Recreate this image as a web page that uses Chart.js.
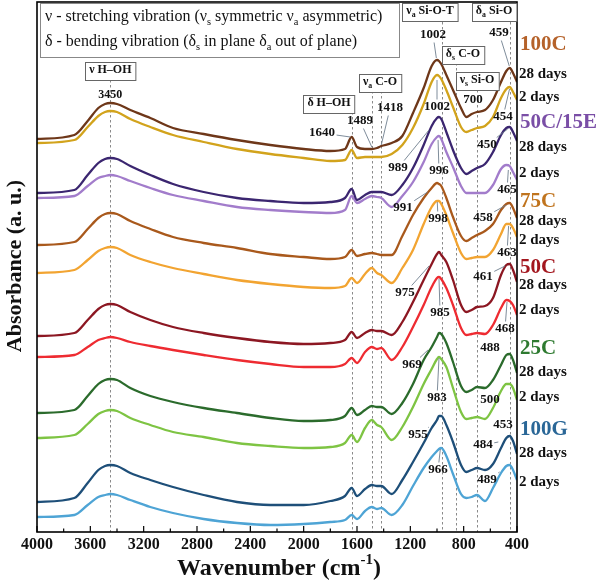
<!DOCTYPE html>
<html><head><meta charset="utf-8">
<script src="https://cdn.jsdelivr.net/npm/chart.js@4.4.1/dist/chart.umd.min.js"></script>
<style>html,body{margin:0;padding:0;background:#fff}canvas{display:block}</style>
</head><body>
<canvas id="c" width="600" height="585"></canvas>
<script>
// ---------- DATA ----------
const wavenumbers = [4000,3720,3620,3540,3490,3450,3400,3300,3150,2980,2750,2500,2250,2000,1800,1690,1640,1600,1540,1489,1450,1418,1340,1260,1180,1100,1040,1000,985,968,930,880,820,780,740,700,640,580,520,480,455,430,400];
const xTickValues = [4000,3600,3200,2800,2400,2000,1600,1200,800,400];

const c100C_28d = [393,397,411,424,428,429,428,422,414,404,398,392,387,383,381,383,395,385,383,383,384,386,389,396,419,444,466,472,471,468,457,442,424,415,418,420,422,432,450,461,464,459,450];
const c100C_2d  = [389,392,405,416,420,421,420,413,405,397,390,383,378,374,371,372,382,374,375,375,375,375,378,387,404,428,450,457,456,453,442,425,405,400,402,404,406,415,434,443,445,440,432];
const c50C15E_28d = [339,342,357,369,373,374,373,366,357,348,340,334,331,329,330,334,343,332,337,340,340,340,337,347,364,387,406,414,415,413,400,382,364,358,361,364,368,380,397,404,405,400,391];
const c50C15E_2d  = [334,336,346,354,356,357,356,351,344,337,331,325,322,320,319,322,336,329,333,336,335,334,325,336,350,370,388,395,396,393,380,365,346,339,339,339,339,347,363,367,366,360,352];
const c75C_28d = [287,290,303,314,318,319,318,311,303,295,289,284,278,275,273,275,282,276,278,279,278,277,277,296,317,334,344,349,348,346,334,315,296,291,294,297,301,308,322,328,329,324,314];
const c75C_2d  = [259,262,272,281,284,285,284,277,270,264,258,252,248,245,244,246,254,249,258,264,259,257,249,264,282,308,325,331,331,328,317,299,279,273,274,275,275,282,298,308,308,304,295];
const c50C_28d = [196,199,212,223,227,228,227,220,212,205,199,194,190,188,189,192,200,194,199,202,201,201,197,210,230,252,268,278,280,277,270,252,227,220,222,225,226,234,257,267,268,262,250];
const c50C_2d  = [175,177,185,192,194,195,194,190,186,182,177,172,168,165,165,168,174,169,180,185,183,184,172,185,205,227,245,254,255,253,244,227,204,197,198,199,198,207,224,232,231,227,217];
const c25C_28d = [119,122,136,148,152,153,152,144,136,130,124,119,114,111,112,116,124,117,122,126,125,125,118,129,148,172,185,195,199,198,189,170,146,140,142,145,144,152,167,177,178,172,159];
const c25C_2d  = [94,97,108,118,121,122,121,114,107,100,95,89,86,84,85,89,97,90,104,112,107,105,92,105,125,148,163,173,175,173,165,144,120,113,114,115,113,124,141,148,148,144,132];
const c100G_28d = [30,34,49,62,66,67,66,59,52,45,37,30,27,27,31,36,44,36,43,47,46,46,38,52,70,89,104,112,116,116,107,90,67,60,62,64,62,68,84,94,96,91,78];
const c100G_2d  = [15,17,27,35,37,38,37,32,25,19,13,9,7,8,10,12,17,13,21,25,23,24,17,27,46,64,75,81,83,84,76,58,38,34,35,37,31,44,59,66,67,62,52];

const seriesLabels = ['100C 28 days','100C 2 days','50C/15E 28 days','50C/15E 2 days','75C 28 days','75C 2 days','50C 28 days','50C 2 days','25C 28 days','25C 2 days','100G 28 days','100G 2 days'];
const seriesValues = [c100C_28d,c100C_2d,c50C15E_28d,c50C15E_2d,c75C_28d,c75C_2d,c50C_28d,c50C_2d,c25C_28d,c25C_2d,c100G_28d,c100G_2d];
const seriesColors = ['#6e3719','#d2a31c','#3b2670','#a27ccb','#a9591c','#f2a431','#8c1722','#ee2b31','#2b6b2c','#7ec443','#1e4f79','#4ea4d5'];

// group labels on right
const groupNames = ['100C','50C/15E','75C','50C','25C','100G'];
const groupColors = ['#b5622a','#7a4ea6','#c0741e','#a3161e','#2e7a30','#2a6797'];
const ageNames = ['28 days','2 days'];

// reference band positions (cm-1)
const bandLines = [3450,1640,1489,1418,966,855,700,455];
const bandLineTops = [452,420,441,441,510,469,442,510];

// peak labels: text, label position (cm-1, a.u.), leader target (cm-1, a.u.)
const peakText = ['3450','1640','1489','1418','1002','459','1002','700','454','989','996','450','465','991','998','458','463','975','461','985','468','488','969','983','500','453','955','484','966','489'];
const peakPos = [[3450,437],[1862,399],[1577,411],[1352,424],[1030,497],[535,499],[1000,425],[730,432],[505,415],[1292,364],[985,361],[625,387],[475,342],[1255,324],[992,313],[655,314],[475,279],[1240,239],[655,255],[977,219],[490,203],[602,184],[1187,167],[1000,134],[602,132],[505,107],[1142,97],[655,87],[992,62],[625,52]];
const peakTarget = [null,[1650,395],[1489,385],[1418,387],[1005,474],[458,466],[1000,452],null,[456,443],[1060,402],[992,392],[470,403],[465,362],[1070,340],[998,330],[480,327],[463,306],[1060,266],[490,266],[985,253],[475,230],null,[1068,182],[985,174],null,null,[1060,105],[540,90],[975,83],[530,60]];

// assignment boxes
const boxParts = [
  [['ν H–OH']],
  [['δ H–OH']],
  [['ν'],['a','sub'],[' C-O']],
  [['ν'],['a','sub'],[' Si-O-T']],
  [['δ'],['s','sub'],[' C-O']],
  [['ν'],['s','sub'],[' Si-O']],
  [['δ'],['a','sub'],[' Si-O']]
];
const boxPos = [[3450,461],[1810,428],[1427,449],[1052,520],[805,477],[700,451],[572,520]];

// ---------- CHART ----------
const SERIF = "'Liberation Serif','Times New Roman','DejaVu Serif',serif";

function drawRich(ctx, parts, cx, cy, size, weight, align){
  const f = s => `${weight} ${s}px ${SERIF}`;
  let total = 0; const widths = [];
  parts.forEach(p => { const s = p[1] ? size*0.65 : size; ctx.font = f(s); const w = ctx.measureText(p[0]).width; widths.push(w); total += w; });
  let x = align === 'left' ? cx : cx - total/2;
  ctx.textBaseline = 'middle'; ctx.textAlign = 'left';
  parts.forEach((p,i) => {
    let s = size, dy = 0;
    if (p[1] === 'sub') { s = size*0.65; dy = size*0.32; }
    if (p[1] === 'sup') { s = size*0.65; dy = -size*0.38; }
    ctx.font = f(s); ctx.fillText(p[0], x, cy + dy); x += widths[i];
  });
  return total;
}

const decor = {
  id: 'decor',
  beforeDraw(chart){ const c = chart.ctx; c.save(); c.fillStyle = '#fff'; c.fillRect(0,0,chart.width,chart.height); c.restore(); },
  beforeDatasetsDraw(chart){
    const c = chart.ctx, xs = chart.scales.x, ys = chart.scales.y, a = chart.chartArea;
    c.save(); c.strokeStyle = '#8a8a8a'; c.lineWidth = 1; c.setLineDash([2.5,2.5]);
    bandLines.forEach((w,i) => { const x = Math.round(xs.getPixelForValue(w))+0.5; c.beginPath(); c.moveTo(x, ys.getPixelForValue(bandLineTops[i])); c.lineTo(x, a.bottom); c.stroke(); });
    c.restore();
  },
  afterDatasetsDraw(chart){
    const c = chart.ctx, xs = chart.scales.x, ys = chart.scales.y, a = chart.chartArea;
    c.save();
    // frame
    c.strokeStyle = '#000'; c.lineWidth = 1.6; c.setLineDash([]);
    c.strokeRect(a.left, a.top, a.right - a.left, a.bottom - a.top);
    // inner ticks
    c.lineWidth = 1.2;
    for (let v = 400; v <= 4000; v += 200) {
      const x = xs.getPixelForValue(v); const len = (v % 400 === 0) ? 6 : 3.5;
      c.beginPath(); c.moveTo(x, a.bottom); c.lineTo(x, a.bottom - len); c.stroke();
    }
    // legend box
    c.fillStyle = '#fff'; c.strokeStyle = '#888'; c.lineWidth = 1;
    c.fillRect(40.5, 3.5, 359, 54); c.strokeRect(40.5, 3.5, 359, 54);
    c.fillStyle = '#111';
    drawRich(c, [['ν - stretching vibration (ν'],['s','sub'],[' symmetric ν'],['a','sub'],[' asymmetric)']], 45, 17, 16, 'normal', 'left');
    drawRich(c, [['δ - bending vibration (δ'],['s','sub'],[' in plane δ'],['a','sub'],[' out of plane)']], 45, 42, 16, 'normal', 'left');
    // assignment boxes
    boxParts.forEach((parts,i) => {
      const cx = xs.getPixelForValue(boxPos[i][0]), cy = ys.getPixelForValue(boxPos[i][1]);
      let w = 0; parts.forEach(p => { c.font = `bold ${p[1]?7.8:12}px ${SERIF}`; w += c.measureText(p[0]).width; });
      const bw = w + 8, bh = 18;
      c.fillStyle = '#fff'; c.strokeStyle = '#666'; c.lineWidth = 1;
      c.fillRect(Math.round(cx - bw/2)+0.5, Math.round(cy - bh/2)+0.5, bw, bh);
      c.strokeRect(Math.round(cx - bw/2)+0.5, Math.round(cy - bh/2)+0.5, bw, bh);
      c.fillStyle = '#111';
      drawRich(c, parts, cx, cy - 1, 12, 'bold', 'center');
    });
    // peak labels with leader lines
    peakText.forEach((t,i) => {
      const lx = xs.getPixelForValue(peakPos[i][0]), ly = ys.getPixelForValue(peakPos[i][1]);
      c.font = `bold 13px ${SERIF}`; const w = c.measureText(t).width;
      if (peakTarget[i]) {
        const tx = xs.getPixelForValue(peakTarget[i][0]), ty = ys.getPixelForValue(peakTarget[i][1]);
        const dx = tx - lx, dy = ty - ly; const hw = w/2 + 1.5, hh = 7.5;
        const s = Math.min(dx !== 0 ? hw/Math.abs(dx) : Infinity, dy !== 0 ? hh/Math.abs(dy) : Infinity);
        c.strokeStyle = '#6f7f8f'; c.lineWidth = 0.9;
        c.beginPath(); c.moveTo(lx + dx*s, ly + dy*s); c.lineTo(tx, ty); c.stroke();
      }
      c.fillStyle = '#111'; c.textAlign = 'center'; c.textBaseline = 'middle';
      c.font = `bold ${t === '3450' ? 12 : 13}px ${SERIF}`;
      c.fillText(t, lx, ly);
    });
    // right-hand sample labels
    const gy = [45,123,202,268,349,430];
    const dy = [[74,97],[147,173],[221,240],[285,310],[372,397],[453,482]];
    c.textAlign = 'left'; c.textBaseline = 'middle';
    groupNames.forEach((g,i) => {
      c.font = `bold 21px ${SERIF}`; c.fillStyle = groupColors[i];
      c.fillText(g, a.right + 3, gy[i]);
      c.font = `bold 15px ${SERIF}`; c.fillStyle = '#111';
      c.fillText(ageNames[0], a.right + 2, dy[i][0]);
      c.fillText(ageNames[1], a.right + 2, dy[i][1]);
    });
    // axis titles
    c.fillStyle = '#111';
    c.font = `bold 24px ${SERIF}`;
    const pre = 'Wavenumber (cm', sup = '-1', post = ')';
    const w1 = c.measureText(pre).width; c.font = `bold 15px ${SERIF}`; const w2 = c.measureText(sup).width;
    c.font = `bold 24px ${SERIF}`; const w3 = c.measureText(post).width;
    let x0 = (a.left + a.right)/2 - (w1+w2+w3)/2 + 2;
    c.textAlign = 'left'; c.textBaseline = 'middle';
    c.fillText(pre, x0, 569); c.font = `bold 15px ${SERIF}`; c.fillText(sup, x0 + w1, 560);
    c.font = `bold 24px ${SERIF}`; c.fillText(post, x0 + w1 + w2, 569);
    c.save(); c.translate(15, 266); c.rotate(-Math.PI/2);
    c.font = `bold 22px ${SERIF}`; c.textAlign = 'center'; c.textBaseline = 'middle';
    c.fillText('Absorbance (a. u.)', 0, 0); c.restore();
    c.restore();
  }
};

const datasets = seriesValues.map((vals,i) => ({
  label: seriesLabels[i],
  data: wavenumbers.map((w,j) => ({x: w, y: vals[j]})),
  borderColor: seriesColors[i], backgroundColor: seriesColors[i],
  borderWidth: 2.3, pointRadius: 0, fill: false, cubicInterpolationMode: 'monotone'
}));

new Chart(document.getElementById('c').getContext('2d'), {
  type: 'line',
  data: { datasets },
  options: {
    responsive: false, animation: false, devicePixelRatio: 1,
    layout: { padding: { left: 0, top: 2, right: 83, bottom: 0 } },
    plugins: { legend: { display: false }, tooltip: { enabled: false } },
    scales: {
      x: {
        type: 'linear', reverse: true, min: 400, max: 4000,
        afterBuildTicks: s => { s.ticks = xTickValues.map(v => ({value: v})); },
        afterFit: s => { s.height = 53; },
        ticks: { font: { family: SERIF, size: 16, weight: 'bold' }, color: '#111', padding: -5, maxRotation: 0, autoSkip: false, callback: v => String(v) },
        grid: { display: false }, border: { display: false }
      },
      y: {
        min: 0, max: 530,
        ticks: { display: false }, grid: { display: false }, border: { display: false },
        afterFit: s => { s.width = 37; }
      }
    }
  },
  plugins: [decor]
});
</script>
</body></html>
